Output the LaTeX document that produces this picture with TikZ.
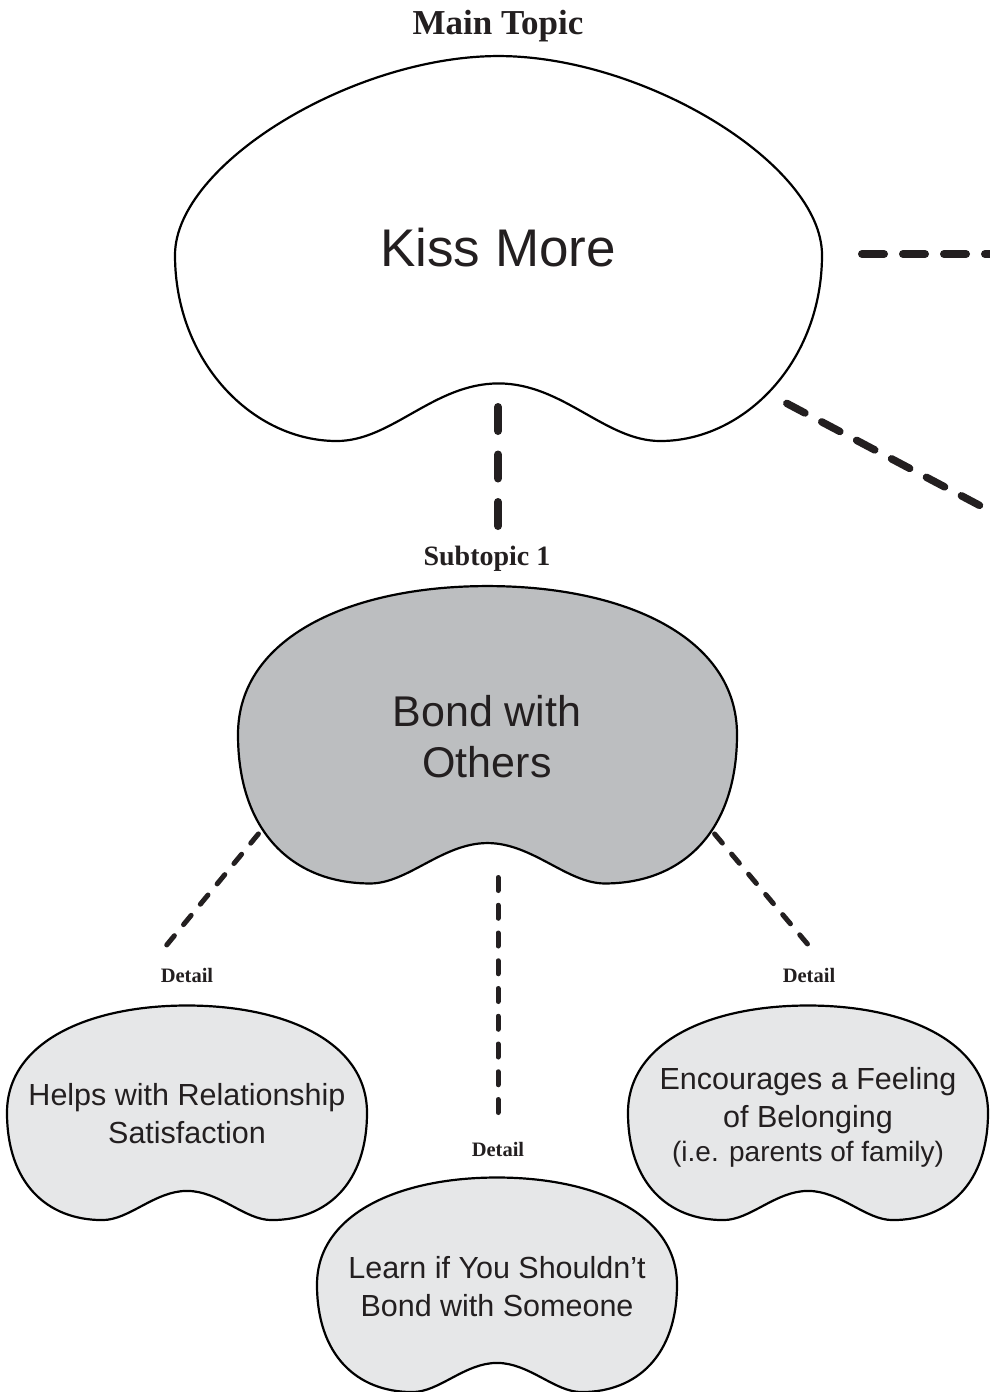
\documentclass[tikz,border=0pt]{standalone}
\usepackage{fontspec}
\setmainfont{Liberation Serif}
\newfontfamily\blobfont{Liberation Sans}
\definecolor{ink}{HTML}{231F20}
\definecolor{subfill}{HTML}{BCBEC0}
\definecolor{detfill}{HTML}{E6E7E8}
\tikzset{
  % large outline: unit half-width, centred on its widest point
  bigblob/.pic={
    \path[pic actions] (0,-0.615)
      .. controls (0.45,-0.615) and (1,-0.28) .. (1,0)
      .. controls (1,0.33) and (0.76,0.575) .. (0.5,0.575)
      .. controls (0.33,0.575) and (0.2,0.397) .. (0,0.397)
      .. controls (-0.2,0.397) and (-0.33,0.575) .. (-0.5,0.575)
      .. controls (-0.76,0.575) and (-1,0.33) .. (-1,0)
      .. controls (-1,-0.28) and (-0.45,-0.615) .. (0,-0.615) -- cycle;
  },
  % kidney outline for the smaller shapes
  kidney/.pic={
    \path[pic actions] (0,-0.625)
      .. controls (0.55,-0.625) and (1,-0.42) .. (1,-0.03)
      .. controls (1,0.36) and (0.78,0.567) .. (0.47,0.567)
      .. controls (0.32,0.567) and (0.18,0.405) .. (0,0.405)
      .. controls (-0.18,0.405) and (-0.32,0.567) .. (-0.47,0.567)
      .. controls (-0.78,0.567) and (-1,0.36) .. (-1,-0.03)
      .. controls (-1,-0.42) and (-0.55,-0.625) .. (0,-0.625) -- cycle;
  },
  blobline/.style={draw=black, line width=2.2pt},
  blobtext/.style={text=ink, align=center, inner sep=0pt},
  tag/.style={text=ink, inner sep=0pt, anchor=base, font=\bfseries},
  bigdash/.style={draw=ink, line width=8pt, line cap=round},
  smalldash/.style={draw=ink, line width=5pt, line cap=round},
}
\begin{document}
\begin{tikzpicture}[x=1pt, y=-1pt]
\useasboundingbox (0,0) rectangle (990,1392);
\clip (0,0) rectangle (990,1392);
\fill[white] (0,0) rectangle (990,1392);

% shapes
\pic[blobline, fill=white, scale=323.5] at (498.5,255) {bigblob};
\pic[blobline, fill=subfill, scale=249.5] at (487.5,742) {kidney};
\pic[blobline, fill=detfill, scale=180] at (187,1118) {kidney};
\pic[blobline, fill=detfill, scale=180] at (808,1118) {kidney};
\pic[blobline, fill=detfill, scale=180] at (497,1290) {kidney};

% headings
\node[tag, font=\bfseries\fontsize{35}{40}\selectfont] (mainlabel) at (498,34) {Main Topic};
\node[tag, font=\bfseries\fontsize{28}{32}\selectfont] (sublabel) at (487,565) {Subtopic 1};
\node[tag, font=\bfseries\fontsize{20.5}{24}\selectfont] (detlabelL) at (187,982) {Detail};
\node[tag, font=\bfseries\fontsize{20.5}{24}\selectfont] (detlabelR) at (809,982) {Detail};
\node[tag, font=\bfseries\fontsize{20.5}{24}\selectfont] (detlabelC) at (498,1156) {Detail};

% texts inside the shapes
\node[blobtext, font=\blobfont\fontsize{53}{64}\selectfont] (main) at (498,248) {Kiss More};
\node[blobtext, font=\blobfont\fontsize{43}{51}\selectfont] (sub) at (487,737) {Bond with\\Others};
\node[blobtext, font=\blobfont\fontsize{30.5}{38}\selectfont] (detL) at (187,1114) {Helps with Relationship\\Satisfaction};
\node[blobtext, font=\blobfont\fontsize{30.5}{38}\selectfont] (detC) at (497,1287) {Learn if You Shouldn’t\\Bond with Someone};
\node[blobtext, font=\blobfont\fontsize{30.5}{38}\selectfont] (detR) at (808,1117) {Encourages a Feeling\\of Belonging\\[-4pt]{\fontsize{28}{34}\selectfont(i.e. parents of family)}};

% connector ends
\coordinate (ms1) at (498,407);   \coordinate (ms2) at (498,526);
\coordinate (mr1) at (862,254);   \coordinate (mr2) at (1010,254);
\coordinate (md1) at (786.8,403.4); \coordinate (md2) at (1010,521.5);
\coordinate (sl1) at (258.4,833.9); \coordinate (sl2) at (166.6,945.1);
\coordinate (sr1) at (714.6,833.9); \coordinate (sr2) at (808.4,945.1);
\coordinate (sc1) at (498,877.5); \coordinate (sc2) at (498,1112.5);

% connectors
\draw[bigdash, dash pattern=on 24pt off 23.5pt] (ms1) -- (ms2);
\draw[bigdash, dash pattern=on 22pt off 19pt] (mr1) -- (mr2);
\draw[bigdash, line width=7.5pt, dash pattern=on 20.5pt off 19pt] (md1) -- (md2);
\draw[smalldash, dash pattern=on 12pt off 14.4pt] (sl1) -- (sl2);
\draw[smalldash, dash pattern=on 12pt off 14.4pt] (sr1) -- (sr2);
\draw[smalldash, dash pattern=on 13pt off 14.75pt] (sc1) -- (sc2);
\end{tikzpicture}
\end{document}
